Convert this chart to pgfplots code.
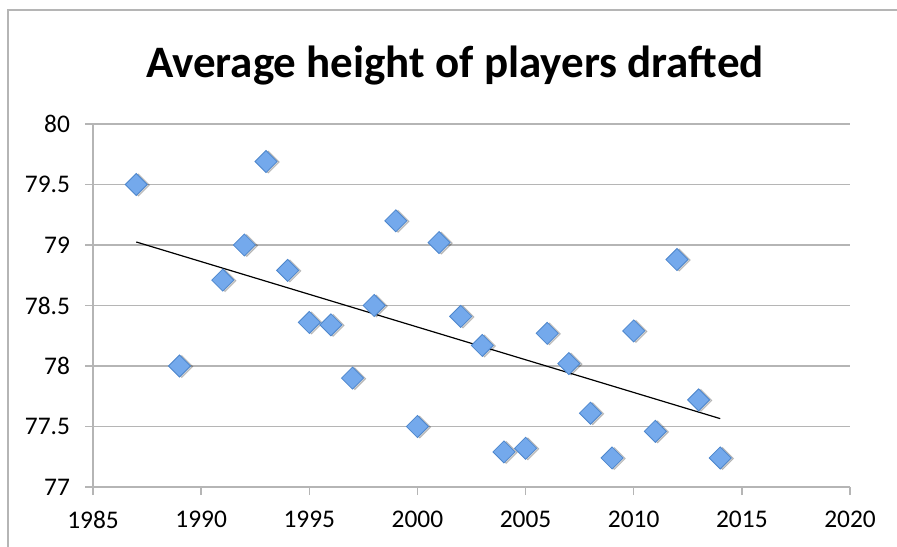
\documentclass[border=0pt]{standalone}
\usepackage{pgfplots}
\usepackage{pgfplotstable}
\pgfplotsset{compat=1.18}
\usepackage{fontspec}
\setmainfont{Carlito}

\definecolor{gridgray}{HTML}{B5B5B5}
\definecolor{markfill}{HTML}{74A9EC}
\definecolor{markedge}{HTML}{4D86CC}

% average height (inches) of drafted players, by draft year
\pgfplotstableread{
x    y
1987 79.50
1989 78.00
1991 78.71
1992 79.00
1993 79.69
1994 78.79
1995 78.36
1996 78.34
1997 77.90
1998 78.50
1999 79.20
2000 77.50
2001 79.02
2002 78.41
2003 78.17
2004 77.29
2005 77.32
2006 78.27
2007 78.02
2008 77.61
2009 77.24
2010 78.29
2011 77.46
2012 78.88
2013 77.72
2014 77.24
}\drafted
% years counted from 2000 keep the regression numerically stable
\pgfplotstablecreatecol[create col/expr={\thisrow{x}-2000}]{xc}\drafted

\begin{document}
\begin{tikzpicture}[x=0.5pt,y=0.5pt]
\useasboundingbox (0,0) rectangle (897,546);
\draw[gridgray, line width=1pt] (8,-20) -- (8,536) -- (940,536);
\node[font=\bfseries\fontsize{22.5}{27}\selectfont, anchor=base, inner sep=0pt]
  at (455,468) {Average height of players drafted};
\begin{axis}[
  at={(46.5pt,29.5pt)}, anchor=south west,
  scale only axis, width=378.5pt, height=181.5pt,
  xmin=1985, xmax=2020, ymin=77, ymax=80,
  xtick={1985,1990,...,2020},
  ytick={77,77.5,...,80},
  axis lines*=left,
  axis line style={gridgray, line width=0.75pt},
  ymajorgrids,
  grid style={gridgray, line width=0.75pt},
  tick align=outside,
  major tick length=4pt,
  tick style={gridgray, line width=0.75pt},
  xtick pos=bottom, ytick pos=left,
  tick label style={font=\fontsize{12.7}{15}\selectfont, black},
  xticklabel shift=4.5pt,
  yticklabel shift=4pt,
  /pgf/number format/assume math mode=true,
  /pgf/number format/set thousands separator={},
  clip=false,
]
% soft shadow beneath the markers
\addplot[only marks, mark=square*, mark size=3.9pt,
  mark options={rotate=45, fill=black, draw=none, opacity=0.18, xshift=0.6pt, yshift=-1pt}]
  table[x=x, y=y] {\drafted};
\addplot[only marks, mark=square*, mark size=3.9pt,
  mark options={rotate=45, fill=markfill, draw=markedge, line width=0.4pt}]
  table[x=x, y=y] {\drafted};
% linear trend line
\addplot[black, line width=0.6pt, no marks]
  table[x=x, y={create col/linear regression={x=xc, y=y}}] {\drafted};
\end{axis}
\end{tikzpicture}
\end{document}
